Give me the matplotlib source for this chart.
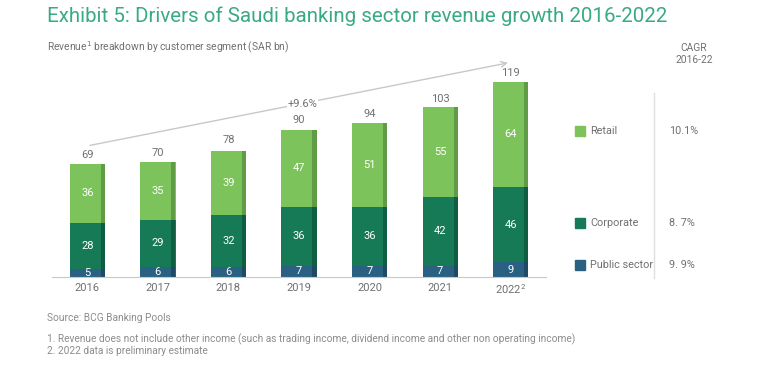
import matplotlib.pyplot as plt

# Datos (SAR bn)
years = ['2016', '2017', '2018', '2019', '2020', '2021', '2022']
public = [5, 6, 6, 7, 7, 7, 9]
corporate = [28, 29, 32, 36, 36, 42, 46]
retail = [36, 35, 39, 47, 51, 55, 64]
totals = [69, 70, 78, 90, 94, 103, 119]
segments = ['Retail', 'Corporate', 'Public sector']
cagr = ['10.1%', '8. 7%', '9. 9%']
growth_label = '+9.6%'

c_retail, c_corp, c_pub = '#7dc35b', '#177a57', '#2a6183'
e_retail, e_corp, e_pub = '#5f9c45', '#105e42', '#1f4a66'
grey = '#707070'
light = '#8c8c8c'

plt.rcParams['font.family'] = ['Roboto', 'DejaVu Sans']

fig = plt.figure(figsize=(7.68, 3.69), dpi=100)
ax = fig.add_axes([52 / 768, 92 / 369, 494 / 768, 213 / 369])

x = list(range(len(years)))
w = 0.5
bottom_corp = public
bottom_retail = [p + c for p, c in zip(public, corporate)]

ax.bar(x, public, w, color=c_pub)
ax.bar(x, corporate, w, bottom=bottom_corp, color=c_corp)
ax.bar(x, retail, w, bottom=bottom_retail, color=c_retail)
# franja oscura a la derecha de cada barra
xe = [i + w / 2 - 0.03 for i in x]
ax.bar(xe, public, 0.06, color=e_pub)
ax.bar(xe, corporate, 0.06, bottom=bottom_corp, color=e_corp)
ax.bar(xe, retail, 0.06, bottom=bottom_retail, color=e_retail)

for i in x:
    ax.text(i, public[i] / 2, str(public[i]), ha='center', va='center',
            color='white', fontsize=8)
    ax.text(i, bottom_corp[i] + corporate[i] / 2, str(corporate[i]),
            ha='center', va='center', color='white', fontsize=8)
    ax.text(i, bottom_retail[i] + retail[i] / 2, str(retail[i]),
            ha='center', va='center', color='white', fontsize=8)
    ax.text(i, totals[i] + 2.5, str(totals[i]), ha='center', va='bottom',
            color=grey, fontsize=8)

# flecha de crecimiento (la etiqueta la corta)
ax.annotate('', xy=(6.0, 131), xytext=(0, 80), annotation_clip=False,
            arrowprops=dict(arrowstyle='->', color='#c8c8c8', lw=1))
ax.text(3.05, 105.5, growth_label, ha='center', va='center', color=grey,
        fontsize=8, bbox=dict(facecolor='white', edgecolor='none', pad=0.5))

ax.set_xlim(-0.5, 6.5)
ax.set_ylim(0, 130)
ax.set_xticks(x)
ax.set_xticklabels(years[:-1] + ['$\\mathregular{2022^{2}}$'])
ax.tick_params(axis='x', length=0, labelsize=8, colors=grey, pad=4)
ax.set_yticks([])
for s in ['top', 'right', 'left']:
    ax.spines[s].set_visible(False)
ax.spines['bottom'].set_color('#c8c8c8')
ax.patch.set_alpha(0)

# título y subtítulo
fig.text(47 / 768, 1 - 16 / 369, 'Exhibit 5: Drivers of Saudi banking sector revenue growth 2016-2022',
         color='#3aaa86', fontsize=14.8, va='center', ha='left')
fig.text(47 / 768, 1 - 47 / 369, 'Revenue$^1$ breakdown by customer segment (SAR bn)',
         color=grey, fontsize=7.4, va='center', ha='left')
fig.text(694 / 768, 1 - 54 / 369, 'CAGR\n2016-22', color=grey, fontsize=7.4,
         va='center', ha='center', linespacing=1.15)

# leyenda y CAGR
legend_y = [131, 223, 265]
colors = [c_retail, c_corp, c_pub]
for lab, col, yy, val in zip(segments, colors, legend_y, cagr):
    fy = 1 - yy / 369
    fig.patches.append(plt.Rectangle((575 / 768, fy - 5 / 369), 10 / 768, 10 / 369,
                                     transform=fig.transFigure, color=col))
    fig.text(590 / 768, fy, lab, color=grey, fontsize=7.8, va='center', ha='left')
    fig.text(669 / 768, fy, val, color=grey, fontsize=7.8, va='center', ha='left')

fig.add_artist(plt.Line2D([654 / 768, 654 / 768], [1 - 93 / 369, 1 - 278 / 369],
                          transform=fig.transFigure, color='#e0e0e0', lw=1))

# notas
fig.text(47 / 768, 1 - 318 / 369, 'Source: BCG Banking Pools', color=light,
         fontsize=7.3, va='center', ha='left')
fig.text(47 / 768, 1 - 339 / 369,
         '1. Revenue does not include other income (such as trading income, dividend income and other non operating income)',
         color=light, fontsize=7.3, va='center', ha='left')
fig.text(47 / 768, 1 - 351 / 369, '2. 2022 data is preliminary estimate', color=light,
         fontsize=7.3, va='center', ha='left')

fig.savefig('out.png', dpi=100)
